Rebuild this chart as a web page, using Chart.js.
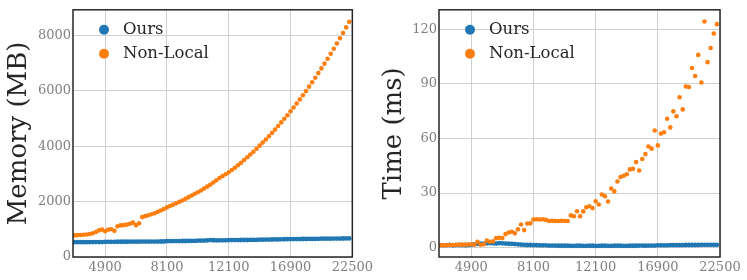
<!DOCTYPE html>
<html>
<head>
<meta charset="utf-8">
<script src="https://cdn.jsdelivr.net/npm/chart.js@4.4.0/dist/chart.umd.min.js"></script>
<style>
  body { margin: 0; background: #fff; }
  canvas { position: absolute; top: 0; }
</style>
</head>
<body>
<canvas id="graficoMemoria" width="376" height="280" style="left:0px"></canvas>
<canvas id="graficoTempo" width="377" height="280" style="left:370px"></canvas>
<script>
// x position = side of the input (ticks are labelled with side^2)
const sides = [60, 61, 62, 63, 64, 65, 66, 67, 68, 69,
    70, 71, 72, 73, 74, 75, 76, 77, 78, 79,
    80, 81, 82, 83, 84, 85, 86, 87, 88, 89,
    90, 91, 92, 93, 94, 95, 96, 97, 98, 99,
    100, 101, 102, 103, 104, 105, 106, 107, 108, 109,
    110, 111, 112, 113, 114, 115, 116, 117, 118, 119,
    120, 121, 122, 123, 124, 125, 126, 127, 128, 129,
    130, 131, 132, 133, 134, 135, 136, 137, 138, 139,
    140, 141, 142, 143, 144, 145, 146, 147, 148, 149];

const xTicks = [70, 90, 110, 130, 150];
const xTickLabels = ['4900', '8100', '12100', '16900', '22500'];

const memOurs = [535, 535, 536, 536, 537, 537, 538, 538, 539, 540,
    548, 548, 549, 549, 550, 550, 551, 551, 552, 552,
    555, 555, 556, 556, 557, 557, 558, 558, 559, 559,
    572, 573, 574, 575, 576, 577, 578, 579, 580, 581,
    590, 592, 594, 600, 612, 604, 600, 601, 602, 603,
    610, 611, 612, 612, 613, 614, 614, 615, 616, 617,
    626, 627, 628, 630, 632, 634, 636, 638, 640, 642,
    645, 646, 647, 648, 649, 650, 651, 652, 653, 655,
    660, 661, 662, 663, 664, 665, 666, 668, 670, 672];

const memNonLocal = [780, 790, 795, 805, 815, 830, 860, 900, 960, 990,
    930, 990, 1000, 945, 1110, 1140, 1150, 1170, 1200, 1240,
    1150, 1220, 1440, 1475, 1510, 1545, 1580, 1630, 1680, 1730,
    1790, 1840, 1890, 1940, 1990, 2040, 2100, 2160, 2220, 2280,
    2340, 2400, 2470, 2540, 2610, 2690, 2770, 2850, 2920, 2990,
    3060, 3140, 3225, 3310, 3400, 3500, 3600, 3700, 3800, 3910,
    4020, 4130, 4240, 4360, 4480, 4600, 4730, 4860, 4990, 5120,
    5260, 5400, 5540, 5690, 5840, 5990, 6150, 6310, 6470, 6640,
    6810, 6980, 7160, 7340, 7520, 7710, 7900, 8090, 8290, 8490];

const timeOurs = [1.3, 1.2, 1.3, 1.4, 1.2, 1.3, 1.4, 1.3, 1.2, 1.4,
    1.5, 1.8, 2.0, 2.1, 2.2, 2.3, 2.4, 2.3, 2.2, 2.4,
    2.3, 2.2, 2.1, 2.0, 1.9, 1.8, 1.6, 1.5, 1.4, 1.4,
    1.3, 1.3, 1.2, 1.2, 1.2, 1.1, 1.1, 1.1, 1.0, 1.0,
    1.0, 1.0, 0.9, 0.9, 1.0, 1.0, 0.9, 0.9, 1.0, 1.0,
    0.9, 0.9, 1.0, 1.0, 0.9, 0.9, 1.0, 1.0, 1.0, 0.9,
    0.9, 1.0, 1.0, 1.0, 1.1, 1.1, 1.0, 1.1, 1.1, 1.1,
    1.2, 1.2, 1.2, 1.2, 1.3, 1.3, 1.3, 1.3, 1.3, 1.4,
    1.4, 1.4, 1.4, 1.4, 1.5, 1.5, 1.5, 1.5, 1.5, 1.5];

const timeNonLocal = [1.2, 1.3, 1.3, 1.4, 1.4, 1.5, 1.5, 1.6, 1.6, 1.7,
    1.8, 1.6, 3.2, 1.5, 1.8, 3.8, 3.2, 3.4, 5.2, 5.4,
    5.2, 7.4, 8.3, 8.7, 7.8, 10.0, 12.7, 9.6, 13.2, 13.3,
    15.4, 15.6, 15.4, 15.6, 15.2, 14.6, 14.7, 14.6, 14.6, 14.7,
    14.6, 14.6, 17.7, 17.2, 20.0, 17.2, 19.9, 22.2, 22.7, 21.7,
    25.5, 23.7, 29.2, 28.2, 25.3, 32.5, 30.9, 36.3, 38.8, 39.5,
    40.3, 43.0, 43.3, 47.0, 42.4, 48.7, 51.4, 55.6, 54.4, 64.4,
    56.2, 62.7, 63.4, 70.9, 66.1, 74.9, 72.2, 82.7, 76.0, 88.6,
    88.3, 98.8, 94.4, 106.0, 90.8, 124.4, 102.0, 109.8, 117.7, 122.9];

const memTicks = [0, 2000, 4000, 6000, 8000];
const timeTicks = [0, 30, 60, 90, 120];

const seriesNames = ['Ours', 'Non-Local'];
const seriesColors = ['#1f77b4', '#ff7f0e'];

const serif = "'DejaVu Serif', serif";

function pares(values) {
    return sides.map((s, i) => ({ x: s, y: values[i] }));
}

// frame round the plot + legend in the top-left corner
const molduraPlugin = {
    id: 'moldura',
    afterDraw(chart) {
        const a = chart.chartArea;
        const c = chart.ctx;
        c.save();
        c.strokeStyle = '#262626';
        c.lineWidth = 1.5;
        c.strokeRect(a.left, a.top, a.right - a.left, a.bottom - a.top);

        chart.data.datasets.forEach((ds, i) => {
            const y = a.top + 20 + i * 24;
            c.fillStyle = ds.backgroundColor;
            c.beginPath();
            c.arc(a.left + 31, y, 5, 0, Math.PI * 2);
            c.fill();
            c.fillStyle = '#262626';
            c.font = '16.5px ' + serif;
            c.textBaseline = 'middle';
            c.textAlign = 'left';
            c.fillText(ds.label, a.left + 50, y);
        });
        c.restore();
    }
};

function grafico(id, yTitle, ours, nonLocal, yMin, yMax, yTicks, yWidth, rightPad, titlePad) {
    const ctx = document.getElementById(id);

    new Chart(ctx, {
        type: 'scatter',

        data: {
            datasets: [{
                label: seriesNames[0],
                data: pares(ours),
                backgroundColor: seriesColors[0],
                borderWidth: 0,
                pointRadius: 2.4,
                order: 1
            }, {
                label: seriesNames[1],
                data: pares(nonLocal),
                backgroundColor: seriesColors[1],
                borderWidth: 0,
                pointRadius: 2.3,
                order: 0
            }]
        },

        options: {
            responsive: false,
            animation: false,
            devicePixelRatio: 1,

            layout: {
                padding: { top: 6, right: rightPad, bottom: 0, left: 0 }
            },

            plugins: {
                legend: { display: false },
                tooltip: { enabled: false }
            },

            scales: {
                x: {
                    type: 'linear',
                    min: 59.6,
                    max: 150,
                    afterBuildTicks: s => { s.ticks = xTicks.map(v => ({ value: v })); },
                    afterFit: s => { s.height = 23; },
                    grid: { color: '#d0d0d0', drawTicks: false },
                    border: { display: false },
                    ticks: {
                        padding: 3,
                        color: '#808080',
                        maxRotation: 0,
                        autoSkip: false,
                        font: { family: serif, size: 13 },
                        callback: (v, i) => xTickLabels[i]
                    }
                },
                y: {
                    min: yMin,
                    max: yMax,
                    afterBuildTicks: s => { s.ticks = yTicks.map(v => ({ value: v })); },
                    afterFit: s => { s.width = yWidth; },
                    grid: { color: '#d0d0d0', drawTicks: false },
                    border: { display: false },
                    ticks: {
                        padding: 2,
                        color: '#808080',
                        font: { family: serif, size: 13 },
                        callback: v => String(v)
                    },
                    title: {
                        display: true,
                        text: yTitle,
                        color: '#262626',
                        padding: { top: titlePad, bottom: 0 },
                        font: { family: serif, size: 26 }
                    }
                }
            }
        },

        plugins: [molduraPlugin]
    });
}

grafico('graficoMemoria', 'Memory (MB)', memOurs, memNonLocal, 0, 8925, memTicks, 73, 22, 4);
grafico('graficoTempo', 'Time (ms)', timeOurs, timeNonLocal, -5.2, 130.8, timeTicks, 69, 27, 8.3);
</script>
</body>
</html>
